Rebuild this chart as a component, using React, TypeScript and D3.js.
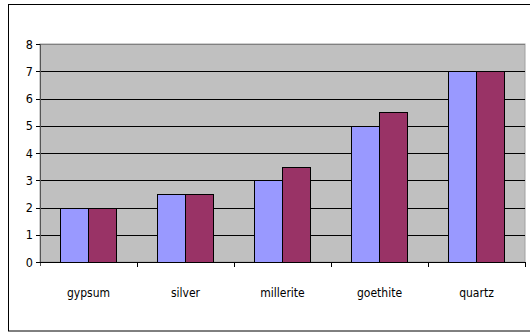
import React from "react";
import * as d3 from "d3";

const categories = ["gypsum", "silver", "millerite", "goethite", "quartz"];
const seriesA = [2, 2.5, 3, 5, 7];
const seriesB = [2, 2.5, 3.5, 5.5, 7];
const yTicks = [0, 1, 2, 3, 4, 5, 6, 7, 8];

const W = 530;
const H = 333;
const plot = { left: 40, top: 44, right: 525, bottom: 262 };
const font = "'DejaVu Sans Condensed', 'DejaVu Sans', sans-serif";

export default function App() {
  const x = d3
    .scaleBand<string>()
    .domain(categories)
    .range([plot.left, plot.right])
    .paddingInner(0)
    .paddingOuter(0);
  const y = d3.scaleLinear().domain([0, 8]).range([plot.bottom, plot.top]);
  const bw = x.bandwidth() / 3.5;
  const sub = d3
    .scaleBand<number>()
    .domain([0, 1])
    .range([(x.bandwidth() - 2 * bw) / 2, (x.bandwidth() + 2 * bw) / 2]);

  const series = [
    { values: seriesA, color: "#9999ff" },
    { values: seriesB, color: "#993366" },
  ];

  return (
    <svg
      width={W}
      height={H}
      style={{ position: "absolute", left: 0, top: 0 }}
    >
      <rect x={0} y={0} width={W} height={H} fill="#fff" />
      <rect x={8.5} y={4.5} width={530} height={326.5} fill="#fff" stroke="#000" strokeWidth={1} />
      <rect
        x={plot.left}
        y={plot.top}
        width={plot.right - plot.left}
        height={plot.bottom - plot.top}
        fill="#c0c0c0"
        stroke="#a0a0a0"
        strokeWidth={1}
      />
      {yTicks.map((t) => (
        <line
          key={"g" + t}
          x1={plot.left}
          x2={plot.right}
          y1={Math.round(y(t)) + 0.5}
          y2={Math.round(y(t)) + 0.5}
          stroke={t === 8 ? "#808080" : "#000"}
          strokeWidth={1}
        />
      ))}
      {series.map((s, si) =>
        categories.map((c, i) => {
          const x0 = (x(c) as number) + (sub(si) as number);
          const top = Math.round(y(s.values[i]));
          return (
            <rect
              key={c + si}
              x={Math.round(x0) - 0.5}
              y={top + 0.5}
              width={Math.round(bw)}
              height={plot.bottom - top}
              fill={s.color}
              stroke="#000"
              strokeWidth={1}
            />
          );
        })
      )}
      {/* y axis */}
      <line x1={plot.left + 0.5} x2={plot.left + 0.5} y1={plot.top} y2={plot.bottom + 4} stroke="#555" />
      {yTicks.map((t) => (
        <g key={"t" + t}>
          <line
            x1={plot.left - 4}
            x2={plot.left}
            y1={Math.round(y(t)) + 0.5}
            y2={Math.round(y(t)) + 0.5}
            stroke="#000"
          />
          <text
            x={plot.left - 7}
            y={y(t)}
            dy="0.36em"
            textAnchor="end"
            fontFamily={font}
            fontSize={12.5}
            fill="#000"
          >
            {t}
          </text>
        </g>
      ))}
      {/* x axis */}
      <line x1={plot.left} x2={plot.right + 1} y1={plot.bottom + 0.5} y2={plot.bottom + 0.5} stroke="#000" />
      {categories.map((c) => (
        <line
          key={"xt" + c}
          x1={Math.round((x(c) as number) + x.bandwidth()) + 0.5}
          x2={Math.round((x(c) as number) + x.bandwidth()) + 0.5}
          y1={plot.bottom}
          y2={plot.bottom + 5}
          stroke="#000"
        />
      ))}
      {categories.map((c) => (
        <text
          key={"xl" + c}
          x={(x(c) as number) + x.bandwidth() / 2}
          y={297}
          textAnchor="middle"
          fontFamily={font}
          fontSize={12}
          fill="#000"
        >
          {c}
        </text>
      ))}
    </svg>
  );
}
